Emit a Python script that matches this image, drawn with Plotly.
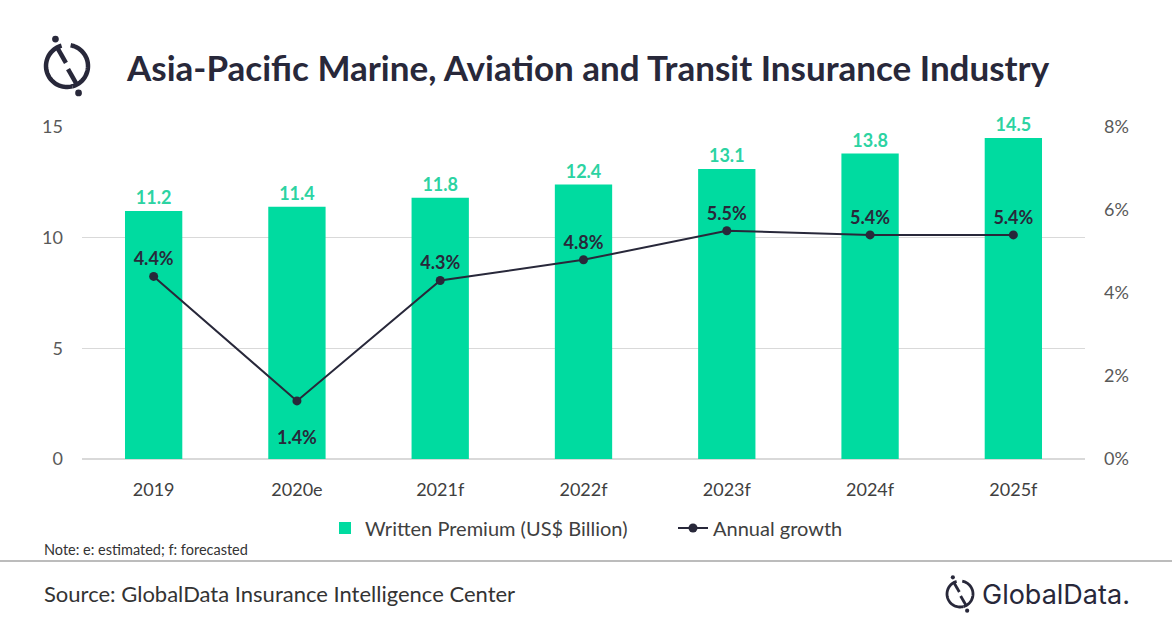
import math
import plotly.graph_objects as go

# data
anos = ["2019", "2020e", "2021f", "2022f", "2023f", "2024f", "2025f"]
premio = [11.2, 11.4, 11.8, 12.4, 13.1, 13.8, 14.5]          # US$ bilhoes
crescimento = [0.044, 0.014, 0.043, 0.048, 0.055, 0.054, 0.054]
pos_texto = ["top center", "bottom center", "top center", "top center",
             "top center", "top center", "top center"]

W, H = 1172, 628
VERDE = "#00DBA0"
VERDE_TXT = "#2CD3A2"
ESCURO = "#28283A"
CINZA = "#595959"


def px(x):
    return x / W


def py(y):
    return 1 - y / H


def arco(cx, cy, r, a0, a1, n=40):
    # polilinha de um arco (graus, sentido anti-horario, y para cima)
    pts = []
    for i in range(n + 1):
        a = math.radians(a0 + (a1 - a0) * i / n)
        pts.append((px(cx + r * math.cos(a)), py(cy - r * math.sin(a))))
    return "M " + " L ".join(f"{x:.5f},{y:.5f}" for x, y in pts)


def seg(x0, y0, x1, y1):
    return f"M {px(x0):.5f},{py(y0):.5f} L {px(x1):.5f},{py(y1):.5f}"


def logo(cx, cy, r, lw):
    formas = []
    for caminho in [arco(cx, cy, r, 105, 285), arco(cx, cy, r, -75, 80),
                    seg(cx - 0.45 * r, cy - 0.85 * r, cx - 0.05 * r, cy - 0.15 * r),
                    seg(cx + 0.05 * r, cy + 0.15 * r, cx + 0.45 * r, cy + 0.85 * r)]:
        formas.append(dict(type="path", xref="paper", yref="paper", path=caminho,
                           line=dict(color=ESCURO, width=lw)))
    d = 0.16 * r
    for (x, y) in [(cx - 0.55 * r, cy - 1.28 * r), (cx + 0.55 * r, cy + 1.28 * r)]:
        formas.append(dict(type="circle", xref="paper", yref="paper",
                           x0=px(x - d), x1=px(x + d), y0=py(y - d), y1=py(y + d),
                           fillcolor=ESCURO, line=dict(width=0)))
    return formas


# rotulos abaixo do ponto ganham uma linha vazia para descer um pouco
rotulos = [("<br>" if p.startswith("bottom") else "") + f"{v * 100:.1f}%"
           for v, p in zip(crescimento, pos_texto)]

fig = go.Figure()

fig.add_trace(go.Bar(
    x=anos,
    y=premio,
    name="Written Premium (US$ Billion)",
    marker=dict(color=VERDE, line=dict(width=0)),
    width=0.4,
    text=premio,
    texttemplate="%{y:.1f}",
    textposition="outside",
    textfont=dict(color=VERDE_TXT, size=18, family="Lato", weight="bold"),
    cliponaxis=False,
))

fig.add_trace(go.Scatter(
    x=anos,
    y=crescimento,
    name="Annual growth",
    yaxis="y2",
    mode="lines+markers+text",
    line=dict(color=ESCURO, width=2),
    marker=dict(color=ESCURO, size=9),
    text=rotulos,
    textposition=pos_texto,
    textfont=dict(color=ESCURO, size=18, family="Lato", weight="bold"),
    cliponaxis=False,
))

formas = [dict(type="line", xref="paper", yref="paper", x0=0, x1=1,
               y0=py(561), y1=py(561), line=dict(color="#A6A6A6", width=1.5))]
formas += logo(67, 66, 21, 4.5)
formas += logo(960, 594, 13, 2.8)

fig.update_layout(
    width=W,
    height=H,
    margin=dict(l=0, r=0, t=0, b=0, autoexpand=False),
    paper_bgcolor="white",
    plot_bgcolor="white",
    font=dict(family="Lato", color=CINZA),
    xaxis=dict(
        domain=[px(82), px(1085)],
        showgrid=False,
        showline=False,
        tickfont=dict(size=18, color="#404040"),
        ticklabelstandoff=18,
        anchor="y",
    ),
    yaxis=dict(
        domain=[py(459), py(127)],
        range=[0, 15],
        dtick=5,
        gridcolor="#D9D9D9",
        gridwidth=1,
        zeroline=True,
        zerolinecolor="#D9D9D9",
        tickfont=dict(size=18, color=CINZA),
        ticklabelstandoff=18,
    ),
    yaxis2=dict(
        overlaying="y",
        side="right",
        range=[0, 0.08],
        dtick=0.02,
        tickformat=".0%",
        showgrid=False,
        zeroline=False,
        tickfont=dict(size=18, color=CINZA),
        ticklabelstandoff=18,
    ),
    legend=dict(
        orientation="h",
        x=px(325), xanchor="left",
        y=py(528), yanchor="middle",
        font=dict(size=20, color="#404040"),
        itemwidth=30,
        entrywidth=303,
        entrywidthmode="pixels",
        traceorder="normal",
    ),
    shapes=formas,
    annotations=[
        dict(text="<b>Asia-Pacific Marine, Aviation and Transit Insurance Industry</b>",
             x=px(124), y=py(67), xref="paper", yref="paper", xanchor="left",
             yanchor="middle", showarrow=False,
             font=dict(size=35, color=ESCURO, family="Lato")),
        dict(text="Note: e: estimated; f: forecasted",
             x=px(42), y=py(549), xref="paper", yref="paper", xanchor="left",
             yanchor="middle", showarrow=False,
             font=dict(size=14.5, color="#333333")),
        dict(text="Source: GlobalData Insurance Intelligence Center",
             x=px(42), y=py(593), xref="paper", yref="paper", xanchor="left",
             yanchor="middle", showarrow=False,
             font=dict(size=22, color="#333333")),
        dict(text="GlobalData.",
             x=px(980), y=py(594), xref="paper", yref="paper", xanchor="left",
             yanchor="middle", showarrow=False,
             font=dict(size=27, color=ESCURO, family="Inter")),
    ],
)

# sem a margem padrao do <body>, a figura ocupa a janela inteira
fig.write_html("out.html", config=dict(displayModeBar=False),
               post_script="document.body.style.margin='0';")
